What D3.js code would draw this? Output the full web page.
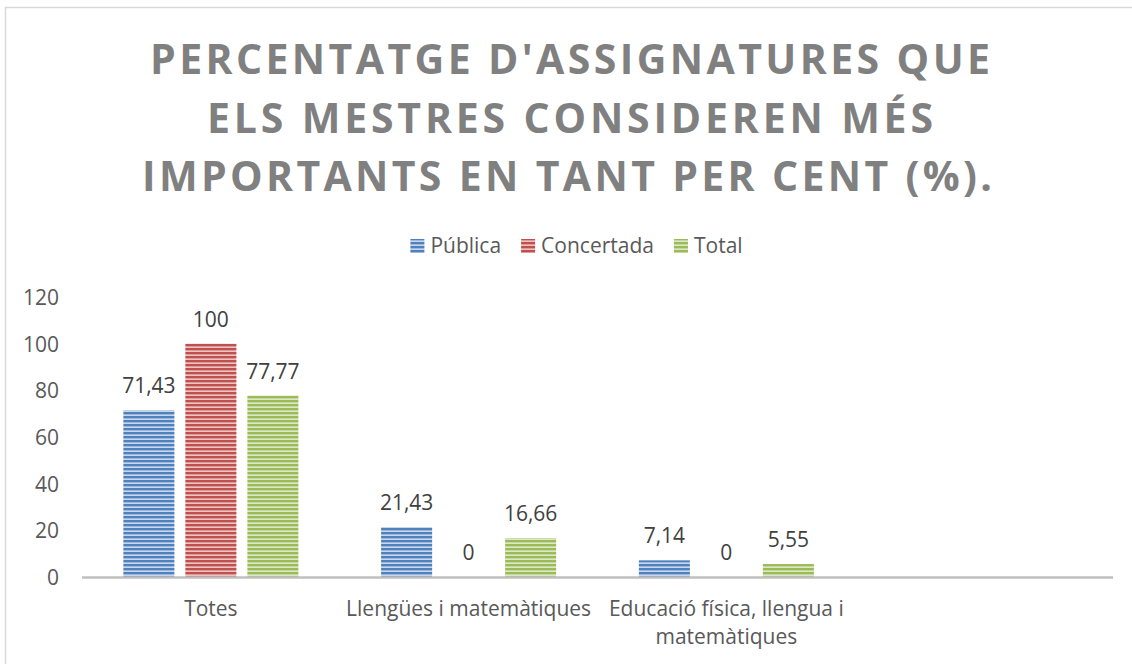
<!DOCTYPE html>
<html>
<head>
<meta charset="utf-8">
<script src="https://cdnjs.cloudflare.com/ajax/libs/d3/7.8.5/d3.min.js"></script>
<style>
  html, body { margin: 0; padding: 0; background: #fff; }
  svg { display: block; font-family: "Open Sans", sans-serif; }
</style>
</head>
<body>
<svg id="chart" width="1132" height="664"></svg>
<script>
// ---- data ----
const titleLines = ["PERCENTATGE D'ASSIGNATURES QUE", "ELS MESTRES CONSIDEREN MÉS", "IMPORTANTS EN TANT PER CENT (%)."];
const categories = ["Totes", "Llengües i matemàtiques", "Educació física, llengua i matemàtiques"];
const seriesNames = ["Pública", "Concertada", "Total"];
const publica = [71.43, 21.43, 7.14];
const concertada = [100, 0, 0];
const total = [77.77, 16.66, 5.55];
const valueLabels = [["71,43", "21,43", "7,14"], ["100", "0", "0"], ["77,77", "16,66", "5,55"]];
const yTicks = [0, 20, 40, 60, 80, 100, 120];
const seriesColors = ["#4f81bd", "#c0504d", "#9bbb59"];
const seriesLight = ["#c6d6ec", "#ecc3c2", "#dbe8c6"];

const seriesValues = [publica, concertada, total];

const svg = d3.select("#chart");
const defs = svg.append("defs");

// striped patterns
seriesColors.forEach((c, i) => {
  const p = defs.append("pattern")
    .attr("id", "pat" + i)
    .attr("patternUnits", "userSpaceOnUse")
    .attr("width", 8).attr("height", 4);
  p.append("rect").attr("width", 8).attr("height", 4).attr("fill", seriesLight[i]);
  p.append("rect").attr("y", 0).attr("width", 8).attr("height", 2).attr("fill", c);
  p.append("rect").attr("y", 2).attr("width", 8).attr("height", 1).attr("fill", c).attr("opacity", 0.35);
});

// chart border
svg.append("rect")
  .attr("x", 5.5).attr("y", 7.5)
  .attr("width", 1140).attr("height", 680)
  .attr("fill", "none").attr("stroke", "#d9d9d9").attr("stroke-width", 1.5);

// title
const titleStarts = [150, 207, 142];
const titleEnds = [990, 933, 992];
const titleBase = [74, 133, 191];
titleLines.forEach((t, i) => {
  svg.append("text")
    .attr("x", titleStarts[i]).attr("y", titleBase[i])
    .attr("font-size", 41).attr("font-weight", 700)
    .attr("fill", "#808080")
    .attr("textLength", titleEnds[i] - titleStarts[i])
    .attr("lengthAdjust", "spacing")
    .text(t);
});

// scales
const plotLeft = 82, plotRight = 1113;
const slots = categories.concat(["__empty__"]);
const x0 = d3.scaleBand().domain(slots).range([plotLeft, plotRight]).padding(0);
const x1 = d3.scaleBand().domain(seriesNames).range([0, x0.bandwidth()])
  .paddingInner(0.177).paddingOuter(0.667);
const y = d3.scaleLinear().domain([0, 120]).range([577, 297]);

// y axis labels (no axis line)
const yAxis = d3.axisLeft(y).tickValues(yTicks).tickSize(0).tickPadding(0);
const yg = svg.append("g").attr("transform", "translate(59,0)").call(yAxis);
yg.select(".domain").remove();
yg.selectAll("text").attr("font-size", 21).attr("fill", "#595959")
  .attr("font-family", "Open Sans, sans-serif").attr("dy", "0.35em");

// bars
seriesNames.forEach((s, si) => {
  const g = svg.append("g");
  categories.forEach((c, ci) => {
    const v = seriesValues[si][ci];
    const bx = x0(c) + x1(s);
    if (v > 0) {
      g.append("rect")
        .attr("x", bx).attr("y", y(v))
        .attr("width", x1.bandwidth()).attr("height", y(0) - y(v))
        .attr("fill", "url(#pat" + si + ")");
    }
    g.append("text")
      .attr("x", bx + x1.bandwidth() / 2)
      .attr("y", y(v) - 17)
      .attr("text-anchor", "middle")
      .attr("font-size", 21).attr("fill", "#404040")
      .text(valueLabels[si][ci]);
  });
});

// x baseline
svg.append("line")
  .attr("x1", plotLeft).attr("x2", plotRight)
  .attr("y1", y(0) + 0.5).attr("y2", y(0) + 0.5)
  .attr("stroke", "#bfbfbf").attr("stroke-width", 2.5);

// category labels with wrapping
const maxW = x0.bandwidth() - 6;
categories.forEach(c => {
  const t = svg.append("text")
    .attr("x", x0(c) + x0.bandwidth() / 2)
    .attr("y", 615.5)
    .attr("text-anchor", "middle")
    .attr("font-size", 21).attr("fill", "#595959");
  const words = c.split(" ");
  let line = [];
  let ts = t.append("tspan").attr("x", x0(c) + x0.bandwidth() / 2).attr("dy", 0);
  words.forEach(w => {
    line.push(w);
    ts.text(line.join(" "));
    if (ts.node().getComputedTextLength() > maxW && line.length > 1) {
      line.pop();
      ts.text(line.join(" "));
      line = [w];
      ts = t.append("tspan").attr("x", x0(c) + x0.bandwidth() / 2).attr("dy", 28.5).text(w);
    }
  });
});

// legend
const legend = svg.append("g");
let lx = 0;
seriesNames.forEach((s, i) => {
  const g = legend.append("g");
  g.append("rect").attr("x", 0).attr("y", -7).attr("width", 14).attr("height", 14)
    .attr("fill", "url(#pat" + i + ")");
  const tx = g.append("text").attr("x", 20).attr("y", 0).attr("dy", "0.35em")
    .attr("font-size", 21).attr("fill", "#595959").text(s);
  const w = 20 + tx.node().getComputedTextLength();
  g.attr("transform", "translate(" + lx + ",0)");
  lx += w + 20;
});
const legendW = lx - 20;
legend.attr("transform", "translate(" + (576.5 - legendW / 2) + ",246)");
</script>
</body>
</html>
